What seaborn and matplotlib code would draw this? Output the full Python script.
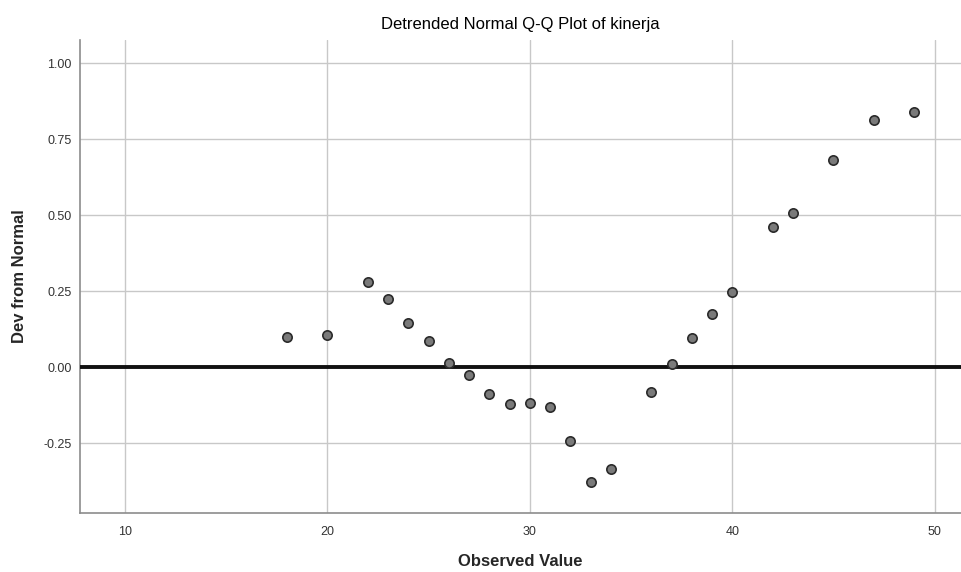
import pandas as pd
import seaborn as sns
import matplotlib.pyplot as plt

# Values
observed = [18, 20, 22, 23, 24, 25, 26, 27, 28, 29, 30, 31, 32, 33, 34,
            36, 37, 38, 39, 40, 42, 43, 45, 47, 49]
dev_normal = [0.099, 0.105, 0.281, 0.225, 0.146, 0.087, 0.014, -0.025, -0.089,
              -0.122, -0.118, -0.132, -0.243, -0.378, -0.336,
              -0.082, 0.010, 0.095, 0.174, 0.247, 0.462, 0.507, 0.681, 0.812, 0.839]
x_ticks = [10, 20, 30, 40, 50]
y_ticks = [-0.25, 0.00, 0.25, 0.50, 0.75, 1.00]

df = pd.DataFrame({'Observed Value': observed, 'Dev from Normal': dev_normal})

sns.set_style('white')
plt.rcParams['font.family'] = ['Liberation Sans', 'DejaVu Sans']

fig = plt.figure(figsize=(9.61, 5.72), dpi=100)
ax = fig.add_axes([0.0832, 0.103, 0.9168, 0.827])

sns.scatterplot(data=df, x='Observed Value', y='Dev from Normal', ax=ax,
                s=45, color='#7a7a7a', edgecolor='#2a2a2a', linewidth=1.2, zorder=5)

ax.axhline(0, color='#111111', linewidth=2.8, zorder=4)

ax.set_xlim(7.78, 51.3)
ax.set_ylim(-0.48, 1.076)
ax.set_xticks(x_ticks)
ax.set_yticks(y_ticks)
ax.set_yticklabels([f'{v:.2f}' for v in y_ticks])
ax.grid(True, color='#c8c8c8', linewidth=1)
ax.tick_params(axis='both', length=0, labelsize=9, colors='#333333')
ax.tick_params(axis='x', pad=9)
ax.tick_params(axis='y', pad=6)

for side in ['top', 'right']:
    ax.spines[side].set_visible(False)
for side in ['left', 'bottom']:
    ax.spines[side].set_color('#8c8c8c')
    ax.spines[side].set_linewidth(1.2)

ax.set_title('Detrended Normal Q-Q Plot of kinerja', fontsize=12, color='black', pad=8)
ax.set_xlabel('Observed Value', fontsize=12, fontweight='bold', labelpad=12)
ax.set_ylabel('Dev from Normal', fontsize=12, fontweight='bold', labelpad=12)

fig.savefig('out.png', dpi=100)
